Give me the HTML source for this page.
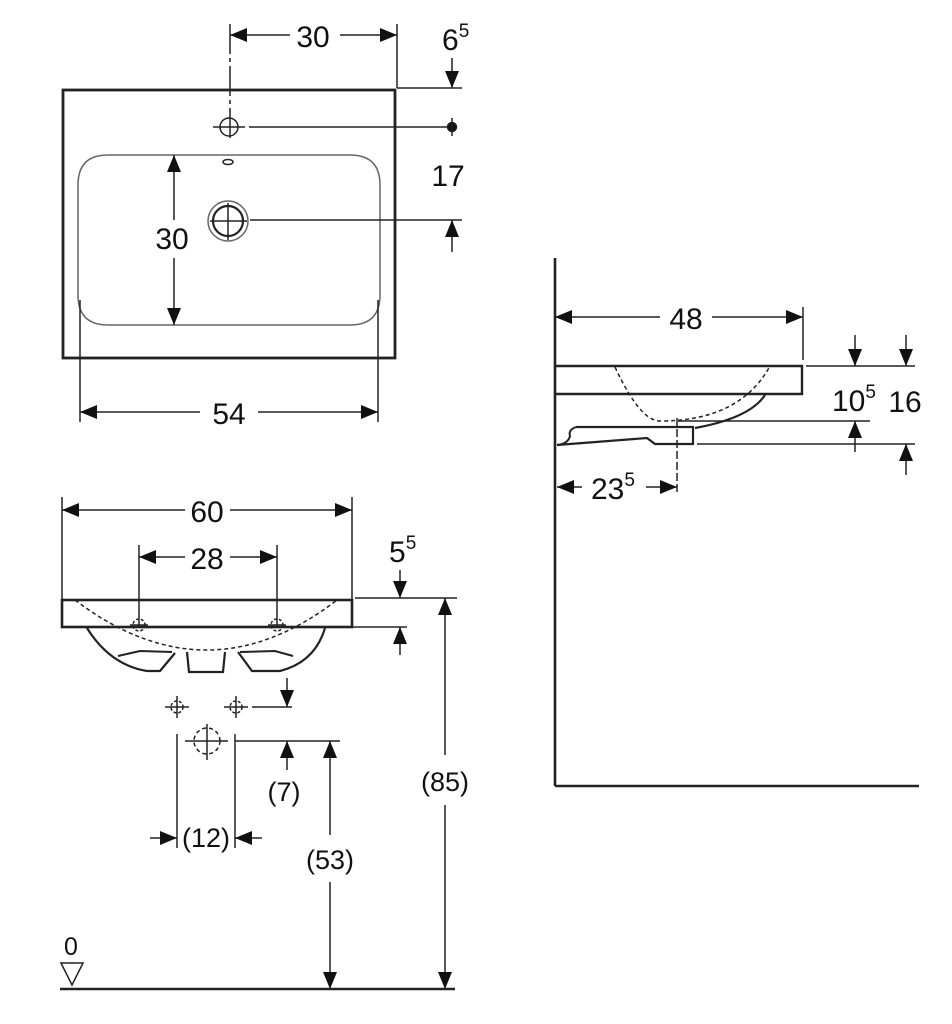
<!DOCTYPE html>
<html><head><meta charset="utf-8"><style>
html,body{margin:0;padding:0;background:#fff}
svg{display:block}
text{font-family:"Liberation Sans",sans-serif;fill:#111}
</style></head><body>
<svg width="952" height="1024" viewBox="0 0 952 1024" xmlns="http://www.w3.org/2000/svg">
<defs>
<marker id="a" markerUnits="userSpaceOnUse" markerWidth="18" markerHeight="14" refX="17" refY="7" orient="auto"><path d="M0,0 L17,7 L0,14 z" fill="#111"/></marker>
<marker id="s" markerUnits="userSpaceOnUse" markerWidth="18" markerHeight="14" refX="17" refY="7" orient="auto-start-reverse"><path d="M0,0 L17,7 L0,14 z" fill="#111"/></marker>
</defs>
<g stroke="#222" fill="none" stroke-width="1.5">
<!-- TOP VIEW -->
<rect x="63" y="90" width="332" height="268" stroke-width="2.8"/>
<path d="M78,295 V185 Q78,155 108,155 H350 Q380,155 380,185 V295 Q380,325 350,325 H108 Q78,325 78,295" stroke="#666"/>
<line x1="80" y1="300" x2="80" y2="422"/>
<line x1="378" y1="300" x2="378" y2="422"/>
<line x1="80" y1="412" x2="200" y2="412" marker-start="url(#s)"/>
<line x1="258" y1="412" x2="378" y2="412" marker-end="url(#a)"/>
<line x1="230" y1="24" x2="230" y2="142" stroke-dasharray="30,4,4,4"/>
<line x1="397" y1="24" x2="397" y2="88"/>
<line x1="230" y1="35" x2="290" y2="35" marker-start="url(#s)"/>
<line x1="340" y1="35" x2="397" y2="35" marker-end="url(#a)"/>
<circle cx="229" cy="127" r="9"/>
<line x1="213" y1="127" x2="245" y2="127"/>
<line x1="249" y1="127" x2="452" y2="127"/>
<circle cx="452" cy="127" r="4.5" fill="#111"/>
<line x1="452" y1="118" x2="452" y2="136"/>
<line x1="397" y1="88" x2="462" y2="88"/>
<line x1="452" y1="58" x2="452" y2="88" marker-end="url(#a)"/>
<line x1="452" y1="252" x2="452" y2="220" marker-end="url(#a)"/>
<line x1="250" y1="220" x2="462" y2="220"/>
<ellipse cx="228" cy="162" rx="5" ry="2.5"/>
<circle cx="228" cy="221" r="20" stroke="#666"/>
<circle cx="228" cy="221" r="15" stroke-width="2.2"/>
<line x1="210" y1="221" x2="247" y2="221"/>
<line x1="228" y1="203" x2="228" y2="240"/>
<line x1="174" y1="220" x2="174" y2="155" marker-end="url(#a)"/>
<line x1="174" y1="258" x2="174" y2="325" marker-end="url(#a)"/>
<!-- FRONT VIEW -->
<line x1="62" y1="497" x2="62" y2="600"/>
<line x1="352" y1="497" x2="352" y2="600"/>
<line x1="62" y1="510" x2="185" y2="510" marker-start="url(#s)"/>
<line x1="230" y1="510" x2="352" y2="510" marker-end="url(#a)"/>
<line x1="139" y1="545" x2="139" y2="628"/>
<line x1="277" y1="545" x2="277" y2="628"/>
<line x1="139" y1="557" x2="185" y2="557" marker-start="url(#s)"/>
<line x1="230" y1="557" x2="277" y2="557" marker-end="url(#a)"/>
<rect x="62" y="600" width="290" height="27" stroke-width="2.6"/>
<line x1="355" y1="598" x2="457" y2="598"/>
<line x1="290" y1="627" x2="407" y2="627"/>
<line x1="400" y1="570" x2="400" y2="598" marker-end="url(#a)"/>
<line x1="400" y1="655" x2="400" y2="627" marker-end="url(#a)"/>
<path d="M75,600 Q207,700 337,600" stroke-dasharray="4,3"/>
<path d="M87,628 Q110,665 147,671 H160 L175,653" stroke-width="2.2"/>
<path d="M118,656 L140,651 L172,652" stroke-width="2"/>
<path d="M187,652 L189,672 H223 L225,652" stroke-width="2.2"/>
<path d="M238,652 L252,671 H280 Q315,662 325,628" stroke-width="2.2"/>
<path d="M240,652 L275,651 L293,656" stroke-width="2"/>
<circle cx="139" cy="625" r="6" stroke-dasharray="3,2"/><line x1="130" y1="625" x2="148" y2="625"/>
<circle cx="277" cy="625" r="6" stroke-dasharray="3,2"/><line x1="268" y1="625" x2="286" y2="625"/>
<circle cx="177" cy="707" r="6" stroke-dasharray="3,2"/><line x1="165" y1="707" x2="189" y2="707"/><line x1="177" y1="696" x2="177" y2="718"/>
<circle cx="236" cy="707" r="6" stroke-dasharray="3,2"/><line x1="224" y1="707" x2="248" y2="707"/><line x1="236" y1="696" x2="236" y2="718"/>
<line x1="252" y1="707" x2="292" y2="707"/>
<line x1="287" y1="678" x2="287" y2="707" marker-end="url(#a)"/>
<circle cx="207" cy="741" r="13" stroke-dasharray="4,3"/>
<line x1="185" y1="741" x2="228" y2="741"/><line x1="207" y1="724" x2="207" y2="760"/>
<line x1="177" y1="734" x2="177" y2="848"/>
<line x1="235" y1="734" x2="235" y2="848"/>
<line x1="235" y1="741" x2="340" y2="741"/>
<line x1="287" y1="770" x2="287" y2="741" marker-end="url(#a)"/>
<line x1="150" y1="838" x2="177" y2="838" marker-end="url(#a)"/>
<line x1="262" y1="838" x2="235" y2="838" marker-end="url(#a)"/>
<line x1="330" y1="741" x2="330" y2="835" marker-start="url(#s)"/>
<line x1="330" y1="882" x2="330" y2="989" marker-end="url(#a)"/>
<line x1="445" y1="598" x2="445" y2="755" marker-start="url(#s)"/>
<line x1="445" y1="805" x2="445" y2="989" marker-end="url(#a)"/>
<line x1="60" y1="989" x2="455" y2="989" stroke-width="2.6"/>
<path d="M61,963 H83 L72,985 Z"/>
<!-- SIDE VIEW -->
<line x1="555" y1="258" x2="555" y2="786" stroke-width="2.6"/>
<line x1="555" y1="786" x2="919" y2="786" stroke-width="2.6"/>
<line x1="803" y1="307" x2="803" y2="360"/>
<line x1="555" y1="317" x2="660" y2="317" marker-start="url(#s)"/>
<line x1="712" y1="317" x2="803" y2="317" marker-end="url(#a)"/>
<path d="M556,366 H802 V394 H556" stroke-width="2.4"/>
<line x1="806" y1="366" x2="915" y2="366"/>
<line x1="855" y1="335" x2="855" y2="366" marker-end="url(#a)"/>
<line x1="906" y1="335" x2="906" y2="366" marker-end="url(#a)"/>
<path d="M615,367 Q640,421 660,421 Q740,421 770,366" stroke-dasharray="4,3"/>
<path d="M765,395 Q750,418 695,428" stroke-width="2.2"/>
<path d="M576,427 H693 V444 H655 L647,438 L557,445" stroke-width="2.2"/>
<path d="M576,427 Q568,430 570,436 Q568,444 557,445" stroke-width="2"/>
<line x1="678" y1="421" x2="870" y2="421"/>
<line x1="697" y1="444" x2="915" y2="444"/>
<line x1="855" y1="452" x2="855" y2="421" marker-end="url(#a)"/>
<line x1="906" y1="475" x2="906" y2="444" marker-end="url(#a)"/>
<line x1="677" y1="418" x2="677" y2="495" stroke-dasharray="8,3"/>
<line x1="557" y1="487" x2="582" y2="487" marker-start="url(#s)"/>
<line x1="646" y1="487" x2="677" y2="487" marker-end="url(#a)"/>
</g>
<g font-size="30">
<text x="313" y="47" text-anchor="middle">30</text>
<text x="442" y="50">6<tspan font-size="19" dy="-13">5</tspan></text>
<text x="448" y="186" text-anchor="middle">17</text>
<text x="172" y="249" text-anchor="middle">30</text>
<text x="229" y="424" text-anchor="middle">54</text>
<text x="207" y="522" text-anchor="middle">60</text>
<text x="207" y="569" text-anchor="middle">28</text>
<text x="389" y="562">5<tspan font-size="19" dy="-13">5</tspan></text>
<text x="284" y="801" text-anchor="middle" font-size="27">(7)</text>
<text x="206" y="847" text-anchor="middle" font-size="27">(12)</text>
<text x="330" y="869" text-anchor="middle" font-size="27">(53)</text>
<text x="445" y="791" text-anchor="middle" font-size="27">(85)</text>
<text x="64" y="955" font-size="25">0</text>
<text x="686" y="329" text-anchor="middle">48</text>
<text x="832" y="411">10<tspan font-size="19" dy="-13">5</tspan></text>
<text x="905" y="412" text-anchor="middle">16</text>
<text x="591" y="499">23<tspan font-size="19" dy="-13">5</tspan></text>
</g>
</svg>
</body></html>
